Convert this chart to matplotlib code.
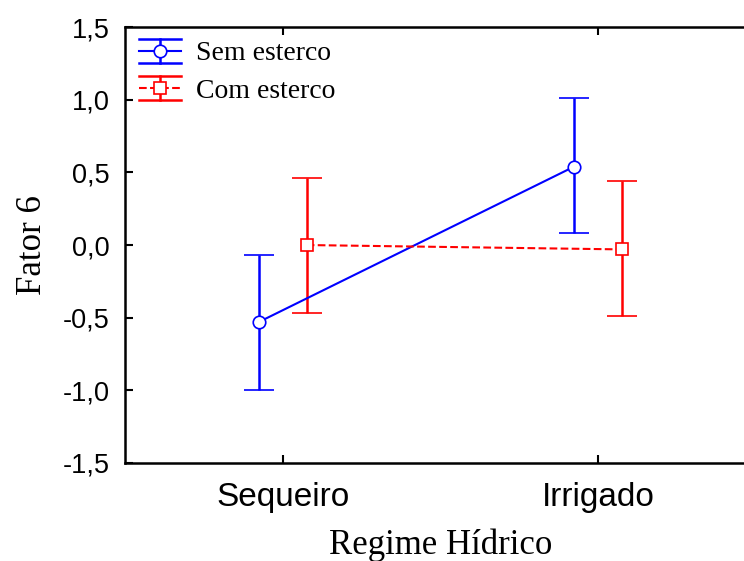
import numpy as np
import matplotlib.pyplot as plt
from matplotlib.lines import Line2D
from matplotlib.legend_handler import HandlerBase

# médias e intervalos (Fator 6) por regime hídrico
regimes = ["Sequeiro", "Irrigado"]
sem_media = [-0.53, 0.54]
sem_sup = [-0.07, 1.01]
sem_inf = [-1.00, 0.08]
com_media = [0.00, -0.03]
com_sup = [0.46, 0.44]
com_inf = [-0.47, -0.49]
yticks = [-1.5, -1.0, -0.5, 0.0, 0.5, 1.0, 1.5]


class HandlerBarra(HandlerBase):
    # simbolo da legenda: linha, barra vertical com tampas largas e marcador
    def __init__(self, cor, ls, marker):
        super().__init__()
        self.cor, self.ls, self.marker = cor, ls, marker

    def create_artists(self, legend, orig, xd, yd, w, h, fs, trans):
        cy = h / 2 - yd
        dy = 12 * 72 / 100
        x0, x1 = -xd, -xd + w
        xm = (x0 + x1) / 2
        arts = [
            Line2D([x0, x1], [cy, cy], color=self.cor, ls=self.ls, lw=1.5),
            Line2D([xm, xm], [cy - dy, cy + dy], color=self.cor, lw=1.8),
            Line2D([x0, x1], [cy + dy, cy + dy], color=self.cor, lw=1.8),
            Line2D([x0, x1], [cy - dy, cy - dy], color=self.cor, lw=1.8),
            Line2D([xm], [cy], marker=self.marker, ms=9 if self.marker == "o" else 8,
                   mfc="white", mec=self.cor, mew=1.2, ls="none"),
        ]
        for a in arts:
            a.set_transform(trans)
        return arts


fig = plt.figure(figsize=(7.44, 5.61), dpi=100)
ax = fig.add_axes([0.168, 0.1747, 0.848, 0.777])

x = np.arange(len(regimes))
desl = 0.076

sem_media = np.array(sem_media)
com_media = np.array(com_media)
err_sem = [sem_media - np.array(sem_inf), np.array(sem_sup) - sem_media]
err_com = [com_media - np.array(com_inf), np.array(com_sup) - com_media]

h1 = ax.errorbar(x - desl, sem_media, yerr=err_sem, color="#0000ff", lw=1.5,
                 elinewidth=1.8, capsize=11, capthick=1.8, marker="o", ms=9,
                 mfc="white", mec="#0000ff", mew=1.2, zorder=3)
h2 = ax.errorbar(x + desl, com_media, yerr=err_com, color="#ff0000", lw=1.5, ls="--",
                 elinewidth=1.8, capsize=11, capthick=1.8, marker="s", ms=8,
                 mfc="white", mec="#ff0000", mew=1.2, zorder=3)

ax.set_xlim(-0.5, 1.5)
ax.set_ylim(-1.5, 1.5)
ax.set_xticks(x)
ax.set_xticklabels(regimes, fontsize=24, family="Liberation Sans")
ax.set_yticks(yticks)
ax.set_yticklabels([f"{v:.1f}".replace(".", ",") for v in yticks],
                   fontsize=19.5, family="Liberation Sans")
ax.tick_params(axis="x", direction="in", top=True, length=6, width=1.5, pad=14)
ax.tick_params(axis="y", direction="in", right=True, length=6, width=1.5, pad=11)
for s in ax.spines.values():
    s.set_linewidth(1.8)

ax.set_xlabel("Regime Hídrico", fontsize=25, family="Liberation Serif", labelpad=11)
ax.set_ylabel("Fator 6", fontsize=25, family="Liberation Serif", labelpad=10)

k1, k2 = object(), object()
ax.legend([k1, k2], ["Sem esterco", "Com esterco"], loc="upper left", frameon=False,
          prop={"family": "Liberation Serif", "size": 20},
          handler_map={k1: HandlerBarra("#0000ff", "-", "o"),
                       k2: HandlerBarra("#ff0000", "--", "s")},
          handlelength=1.5, handletextpad=0.55, labelspacing=0.42,
          borderaxespad=0.0, borderpad=0.5, bbox_to_anchor=(0.0, 1.0))

fig.savefig("out.png", dpi=100)
